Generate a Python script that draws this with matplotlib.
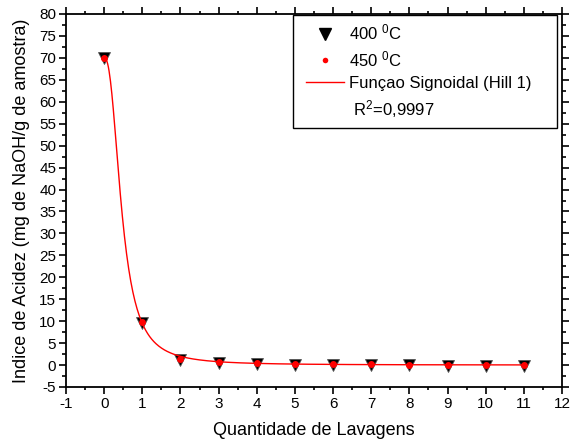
import numpy as np
from matplotlib import pyplot as plt
from matplotlib.lines import Line2D
from matplotlib.patches import Rectangle
from matplotlib.ticker import MultipleLocator

plt.rcParams['font.family'] = ['Liberation Sans', 'DejaVu Sans']
plt.rcParams['mathtext.fontset'] = 'custom'
plt.rcParams['mathtext.rm'] = 'Liberation Sans'
plt.rcParams['mathtext.it'] = 'Liberation Sans:italic'
plt.rcParams['axes.unicode_minus'] = False

# Data
lavagens = [0, 1, 2, 3, 4, 5, 6, 7, 8, 9, 10, 11]
acidez_400 = [70.0, 9.6, 1.1, 0.5, 0.2, 0.1, 0.0, 0.0, -0.1, -0.2, -0.2, -0.2]
acidez_450 = [70.0, 9.8, 1.3, 0.7, 0.4, 0.3, 0.2, 0.2, 0.1, 0.0, 0.0, 0.0]

# Hill 1 fit parameters (estimated)
hill_start = 70.0
hill_end = 0.0
hill_k = 0.465
hill_n = 2.42

fig = plt.figure(figsize=(5.71, 4.47), dpi=100)
ax = fig.add_axes([66/571, 60/447, 496/571, 373/447])

xf = np.linspace(0, 11, 600)
yf = hill_start + (hill_end - hill_start) * xf**hill_n / (hill_k**hill_n + xf**hill_n)

ax.plot(lavagens, acidez_400, 'v', color='black', markersize=8, markeredgecolor='#555555',
        markeredgewidth=0.6, zorder=3, clip_on=False)
ax.plot(lavagens, acidez_450, 'o', color='red', markersize=5, markeredgewidth=0, zorder=4,
        clip_on=False)
ax.plot(xf, yf, '-', color='red', lw=1, zorder=5)

ax.set_xlim(-1, 12); ax.set_ylim(-5, 80)
ax.xaxis.set_major_locator(MultipleLocator(1)); ax.xaxis.set_minor_locator(MultipleLocator(0.5))
ax.yaxis.set_major_locator(MultipleLocator(5)); ax.yaxis.set_minor_locator(MultipleLocator(2.5))
ax.tick_params(which='major', direction='out', length=5, width=1.2, labelsize=11, pad=2)
ax.tick_params(which='minor', direction='out', length=3, width=1.2)
ax.tick_params(which='both', top=True, right=True)
ax.tick_params(which='both', axis='x', top=True, length=2)  # short ticks on the top
ax.tick_params(which='major', axis='x', bottom=True, length=5)
for s in ax.spines.values():
    s.set_linewidth(1.3)
ax.set_xlabel('Quantidade de Lavagens', fontsize=13, labelpad=8)
ax.set_ylabel('Indice de Acidez (mg de NaOH/g de amostra)', fontsize=13, labelpad=7)

# legend box
ax.add_patch(Rectangle((0.458, 0.694), 0.532, 0.303, transform=ax.transAxes,
                       facecolor='white', edgecolor='black', lw=1, zorder=6))
handles = [Line2D([], [], marker='v', ls='none', color='black', markersize=8),
           Line2D([], [], marker='o', ls='none', color='red', markersize=4, markeredgewidth=0),
           Line2D([], [], color='red', lw=1),
           Line2D([], [], ls='none')]
labels = ['400 $^0$C', '450 $^0$C', 'Funçao Signoidal (Hill 1)', ' R$^2$=0,9997']
leg = ax.legend(handles, labels, loc='upper left', bbox_to_anchor=(0.47, 0.995), frameon=False,
                fontsize=12, handlelength=2.3, handletextpad=0.3, labelspacing=0.42,
                borderaxespad=0)
leg.set_zorder(7)

plt.savefig('out.png')
